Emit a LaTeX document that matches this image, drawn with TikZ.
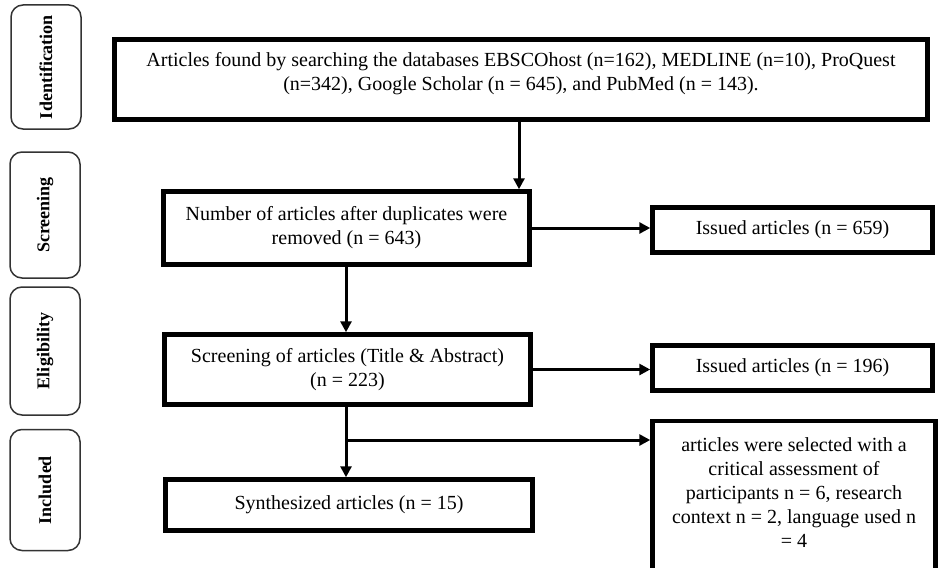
\documentclass[tikz,border=0pt]{standalone}
\usepackage{fontspec}
\setmainfont{Liberation Serif}
\usetikzlibrary{arrows.meta}
\begin{document}
\begin{tikzpicture}[x=1pt,y=-1pt,
  mainbox/.style={draw, line width=4.5pt, align=center, inner sep=0pt,
    font=\fontsize{20}{24}\selectfont},
  sidebox/.style={draw=black!80, line width=1.5pt, rounded corners=12pt,
    inner sep=0pt},
  sidelabel/.style={rotate=90, font=\fontsize{18}{20}\selectfont\bfseries},
  arr/.style={line width=3pt, -{Triangle[length=11pt,width=11pt]}},
  plain/.style={line width=3pt}]
\useasboundingbox (0,0) rectangle (941,567);
% side phase labels
\node[sidebox, minimum width=70pt, minimum height=124pt] (L1) at (46,67) {};
\node[sidelabel] (t1) at (L1.center) {Identification};
\node[sidebox, minimum width=70pt, minimum height=126pt] (L2) at (45,215) {};
\node[sidelabel] (t2) at (L2.center) {Screening};
\node[sidebox, minimum width=70pt, minimum height=128pt] (L3) at (45,351) {};
\node[sidelabel] (t3) at (L3.center) {Eligibility};
\node[sidebox, minimum width=70pt, minimum height=121pt] (L4) at (45,490) {};
\node[sidelabel] (t4) at (L4.center) {Included};
% main boxes
\node[mainbox, minimum width=813pt, minimum height=80pt] (B1) at (521,79.5) {};
\node[align=center, font=\fontsize{20}{24}\selectfont] (B1t) at (521,74)
  {Articles found by searching the databases EBSCOhost (n=162), MEDLINE (n=10), ProQuest\\
   (n=342), Google Scholar (n = 645), and PubMed (n = 143).};
\node[mainbox, minimum width=366pt, minimum height=73pt] (B2) at (346.5,228)
  {Number of articles after duplicates were\\ removed (n = 643)};
\node[mainbox, minimum width=366pt, minimum height=70pt] (B3) at (347.5,369.5)
  {Screening of articles (Title \& Abstract)\\ (n = 223)};
\node[mainbox, minimum width=367pt, minimum height=51pt] (B4) at (349,505)
  {Synthesized articles (n = 15)};
\node[mainbox, minimum width=280pt, minimum height=45pt] (I1) at (792.5,230)
  {Issued articles (n = 659)};
\node[mainbox, minimum width=280pt, minimum height=45pt] (I2) at (792.5,368)
  {Issued articles (n = 196)};
\node[mainbox, minimum width=283pt, minimum height=154pt] (C) at (794,498) {};
\node[align=center, font=\fontsize{20}{24}\selectfont] (Ct) at (794,492.5)
  {articles were selected with a\\ critical assessment of\\ participants n = 6, research\\
   context n = 2, language used n\\ = 4};
% connectors
\coordinate (x1) at (519,0);
\coordinate (x2) at (346,0);
\coordinate (br) at (346,440);
\draw[arr] (B1.south -| x1) -- (B2.north -| x1);
\draw[arr] (B2.east) -- (B2.east -| I1.west);
\draw[arr] (B2.south -| x2) -- (B3.north -| x2);
\draw[arr] (B3.east) -- (B3.east -| I2.west);
\draw[arr] (B3.south -| x2) -- (B4.north -| x2);
\draw[arr] (br) -- (br -| C.west);
\end{tikzpicture}
\end{document}
